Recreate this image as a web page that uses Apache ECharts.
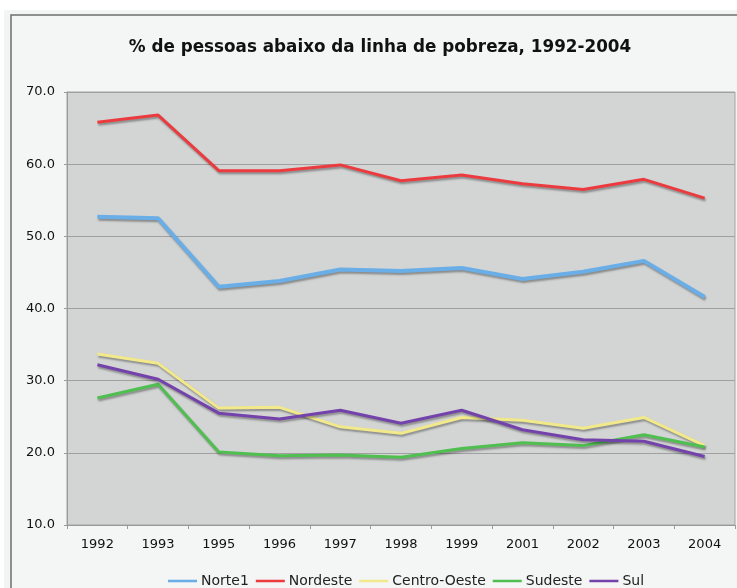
<!DOCTYPE html>
<html>
<head>
<meta charset="utf-8">
<script src="https://cdn.jsdelivr.net/npm/echarts@6/dist/echarts.min.js"></script>
<style>html,body{margin:0;padding:0;background:#fff;}#c{width:737px;height:588px;}</style>
</head>
<body>
<div id="c"></div>
<script>
const titleText = '% de pessoas abaixo da linha de pobreza, 1992-2004';
const years = ['1992','1993','1995','1996','1997','1998','1999','2001','2002','2003','2004'];
const norte1 = [52.7, 52.5, 43.0, 43.8, 45.4, 45.2, 45.6, 44.1, 45.1, 46.6, 41.6];
const nordeste = [65.8, 66.8, 59.1, 59.1, 59.9, 57.7, 58.5, 57.3, 56.5, 57.9, 55.3];
const centroOeste = [33.7, 32.4, 26.2, 26.3, 23.6, 22.7, 24.9, 24.5, 23.4, 24.9, 21.0];
const sudeste = [27.6, 29.5, 20.1, 19.6, 19.7, 19.4, 20.6, 21.4, 21.0, 22.5, 20.8];
const sul = [32.2, 30.2, 25.5, 24.7, 25.9, 24.1, 25.9, 23.2, 21.8, 21.6, 19.5];
const seriesNames = ['Norte1','Nordeste','Centro-Oeste','Sudeste','Sul'];
const seriesData = [norte1, nordeste, centroOeste, sudeste, sul];
const colors = ['#6aaee8','#ec3b3f','#f1e98a','#4fbf50','#7442ab'];
const widths = [4, 3, 3, 3, 3];

const chart = echarts.init(document.getElementById('c'), null, {renderer:'canvas'});
const font = 'DejaVu Sans';
chart.setOption({
  backgroundColor: '#ffffff',
  animation: false,
  graphic: [
    {type:'rect', z:-20, silent:true, shape:{x:4, y:10, width:760, height:600}, style:{fill:'#f3f4f4'}},
    {type:'rect', z:-19, silent:true, shape:{x:11, y:15, width:760, height:600}, style:{fill:'#f4f5f5', stroke:'#6e6e6e', lineWidth:1.5}}
  ],
  title: {
    text: titleText,
    left: 375, top: 34, textAlign: 'center',
    textStyle: {fontFamily: font, fontWeight: 'bold', fontSize: 16.8, color: '#111'}
  },
  legend: {
    left: 163, top: 569,
    icon: 'rect', itemWidth: 29, itemHeight: 2.5, itemGap: 7,
    textStyle: {fontFamily: font, fontSize: 14, color: '#222', padding:[0,0,0,-1]},
    data: seriesNames
  },
  grid: {
    left: 67, right: 2, top: 92, bottom: 63,
    show: true, backgroundColor: '#d3d4d4', borderColor: '#a3a3a3', borderWidth: 1
  },
  xAxis: {
    type: 'category', data: years, boundaryGap: true,
    axisLine: {show:true, lineStyle:{color:'#9a9a9a', width:1}},
    axisTick: {show:true, length:4, lineStyle:{color:'#9a9a9a'}},
    axisLabel: {fontFamily: font, fontSize: 13, color: '#111', margin: 13}
  },
  yAxis: {
    type: 'value', min: 10, max: 70, interval: 10,
    axisLine: {show:true, lineStyle:{color:'#9a9a9a', width:1}},
    axisTick: {show:true, length:3, lineStyle:{color:'#9a9a9a'}},
    splitLine: {show:true, lineStyle:{color:'#a0a0a0', width:1}},
    axisLabel: {fontFamily: font, fontSize: 13, color: '#111', margin: 12, formatter: v => v.toFixed(1)}
  },
  series: seriesNames.map((n,i) => ({
    name: n, type: 'line', data: seriesData[i], symbol: 'none',
    color: colors[i],
    lineStyle: {color: colors[i], width: widths[i], shadowColor:'rgba(0,0,0,0.35)', shadowBlur:2, shadowOffsetX:1, shadowOffsetY:2}
  }))
});
</script>
</body>
</html>
